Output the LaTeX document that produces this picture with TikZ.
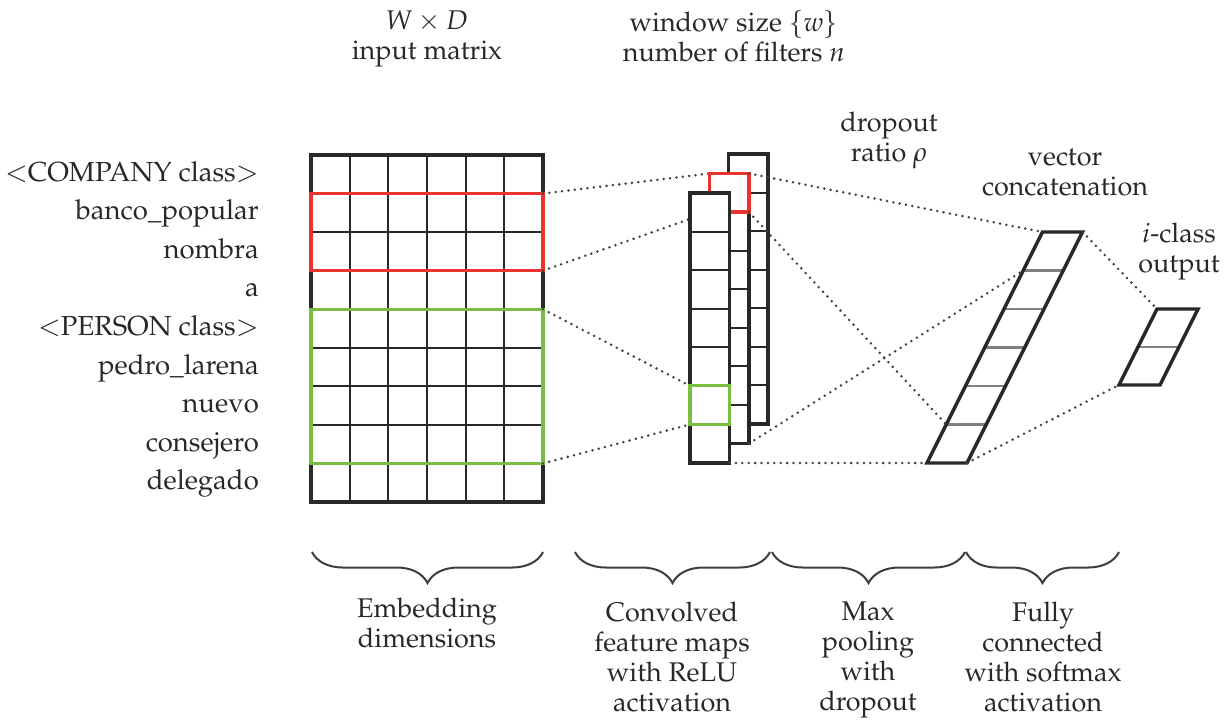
\documentclass[tikz,border=0pt]{standalone}
\usepackage[T1]{fontenc}
\usepackage{mathpazo}
\usetikzlibrary{decorations.pathreplacing}

\definecolor{winred}{RGB}{232,52,44}
\definecolor{wingreen}{RGB}{122,190,64}
\definecolor{ink}{RGB}{40,40,40}

\tikzset{
  txt/.style={font=\fontsize{27}{30}\selectfont, text=ink, inner sep=0pt, align=center},
  wordlbl/.style={font=\fontsize{27.5}{30}\selectfont, text=ink, inner sep=0pt, anchor=base east},
  frame/.style={draw=ink, line width=3.4pt, line join=miter},
  cellline/.style={draw=ink, line width=2pt},
  softline/.style={draw=black!50, line width=2.2pt},
  redwin/.style={draw=winred, line width=3.2pt},
  greenwin/.style={draw=wingreen, line width=3.2pt},
  dotline/.style={draw=black!75, line width=2.8pt, line cap=round, dash pattern=on 0pt off 6.4pt},
  bracket/.style={draw=ink!90, line width=2pt, decorate,
    decoration={brace, mirror, amplitude=31pt, aspect=0.5}},
}

\begin{document}
\begin{tikzpicture}[x=1pt, y=-1pt]
\useasboundingbox (0,0) rectangle (1225,721);

% ---------------- input matrix (9 words x 6 dimensions) ----------------
\def\mx{311}\def\my{155}\def\cw{38.667}\def\ch{38.556}
\foreach \i in {1,...,5}
  \draw[cellline] ({\mx+\i*\cw},\my) -- ({\mx+\i*\cw},{\my+9*\ch});
\foreach \j in {1,...,8}
  \draw[cellline] (\mx,{\my+\j*\ch}) -- ({\mx+6*\cw},{\my+\j*\ch});
\draw[frame] (\mx,\my) rectangle ({\mx+6*\cw},{\my+9*\ch});

\coordinate (mRedT) at ({\mx+6*\cw},{\my+1*\ch});
\coordinate (mRedB) at ({\mx+6*\cw},{\my+3*\ch});
\coordinate (mGrnT) at ({\mx+6*\cw},{\my+4*\ch});
\coordinate (mGrnB) at ({\mx+6*\cw},{\my+8*\ch});
\draw[redwin] (\mx,{\my+1*\ch}) rectangle (mRedB);
\draw[greenwin] (\mx,{\my+4*\ch}) rectangle (mGrnB);

% word labels, one per matrix row
\foreach \w [count=\k from 0] in {{$<$COMPANY class$>$},banco\_popular,nombra,a,
    {$<$PERSON class$>$},pedro\_larena,nuevo,consejero,delegado}
  \node[wordlbl] (word\k) at (259,{\my+\k*\ch+\ch/2+7}) {\w};

% ---------------- convolved feature maps (three stacked columns) ----------------
\def\fw{39.5}\def\fh{38.57}
\coordinate (fBack) at (728.5,154);
\coordinate (fMid) at (709.5,173.5);
\coordinate (fFront) at (690,193);

\coordinate (redTL) at (709.5,173.5);
\coordinate (redBL) at (709.5,{173.5+\fh});
\coordinate (redTR) at (749,173.5);
\coordinate (redBR) at (749,{173.5+\fh});
\coordinate (midBR) at (749,{173.5+7*\fh});
\coordinate (grnTL) at (690,{193+5*\fh});
\coordinate (grnBL) at (690,{193+6*\fh});
\coordinate (frontBR) at (729.5,{193+7*\fh});

% projections from the matrix windows onto the feature maps
\draw[dotline] (mRedT) -- (redTL);
\draw[dotline] (mRedB) -- (redBL);
\draw[dotline] (mGrnT) -- (grnTL);
\draw[dotline] (mGrnB) -- (grnBL);

% back, middle (with the red window) and front maps
\fill[white] (fBack) rectangle ++(\fw,{7*\fh});
\foreach \j in {1,...,6}
  \draw[cellline] ([yshift=-\j*\fh]fBack) -- ++(\fw,0);
\draw[frame] (fBack) rectangle ++(\fw,{7*\fh});
\fill[white] (fMid) rectangle ++(\fw,{7*\fh});
\foreach \j in {1,...,6}
  \draw[cellline] ([yshift=-\j*\fh]fMid) -- ++(\fw,0);
\draw[frame] (fMid) rectangle ++(\fw,{7*\fh});
\draw[redwin] (redTL) rectangle (redBR);
\fill[white] (fFront) rectangle ++(\fw,{7*\fh});
\foreach \j in {1,...,6}
  \draw[cellline] ([yshift=-\j*\fh]fFront) -- ++(\fw,0);
\draw[frame] (fFront) rectangle ++(\fw,{7*\fh});
\draw[greenwin] (grnTL) rectangle ([xshift=\fw]grnBL);

% ---------------- concatenated vector (slanted) ----------------
\def\vx{927}\def\vy{463}\def\vw{40}\def\vh{38.5}
\coordinate (vBL) at (\vx,\vy);
\coordinate (vBR) at ({\vx+\vw},\vy);
\coordinate (vTL) at ({\vx+3*\vh},{\vy-6*\vh});
\coordinate (vTR) at ({\vx+\vw+3*\vh},{\vy-6*\vh});
\coordinate (vD1) at ({\vx+0.5*\vh},{\vy-\vh});
\coordinate (vD5) at ({\vx+2.5*\vh},{\vy-5*\vh});
\foreach \j in {1,...,5}
  \draw[softline] ({\vx+0.5*\j*\vh},{\vy-\j*\vh}) -- ++(\vw,0);
\draw[frame] (vBL) -- (vBR) -- (vTR) -- (vTL) -- cycle;

% ---------------- class output (slanted) ----------------
\def\ox{1119}\def\oy{385}\def\ow{41}
\coordinate (oBL) at (\ox,\oy);
\coordinate (oBR) at ({\ox+\ow},\oy);
\coordinate (oTL) at ({\ox+38},{\oy-76});
\coordinate (oTR) at ({\ox+\ow+38},{\oy-76});
\draw[softline] ({\ox+19},{\oy-38}) -- ++(\ow,0);
\draw[frame] (oBL) -- (oBR) -- (oTR) -- (oTL) -- cycle;

% pooling and fully connected projections
\draw[dotline] (redTR) -- (vTL);
\draw[dotline] (redBR) -- (vD1);
\draw[dotline] (midBR) -- (vD5);
\draw[dotline] (frontBR) -- (vBL);
\draw[dotline] (vTR) -- (oTL);
\draw[dotline] (vBR) -- (oBL);

% ---------------- headings ----------------
\node[txt, anchor=north] (hMatrix) at (427,10) {$W\times D$\\input matrix};
\node[txt, anchor=north] (hWindow) at (734,10) {window size $\{w\}$\\number of filters $n$};
\node[txt, anchor=north] (hDrop) at (889,112) {dropout\\ratio $\rho$};
\node[txt, anchor=north] (hConcat) at (1065,149) {vector\\concatenation};
\node[txt, anchor=north] (hOut) at (1179,223) {$i$-class\\output};

% ---------------- stage braces and captions ----------------
\coordinate (b1l) at (312,552); \coordinate (b1r) at (543,552);
\coordinate (b2l) at (575,552); \coordinate (b2r) at (770,552);
\coordinate (b3l) at (772,552); \coordinate (b3r) at (965,552);
\coordinate (b4l) at (966,552); \coordinate (b4r) at (1119,552);
\draw[bracket] (b1l) -- (b1r);
\draw[bracket] (b2l) -- (b2r);
\draw[bracket] (b3l) -- (b3r);
\draw[bracket] (b4l) -- (b4r);

\node[txt, anchor=north] (cEmb) at (427,598) {Embedding\\dimensions};
\node[txt, anchor=north] (cConv) at (672,602) {Convolved\\feature maps\\with ReLU\\activation};
\node[txt, anchor=north] (cPool) at (868,602) {Max\\pooling\\with\\dropout};
\node[txt, anchor=north] (cFull) at (1043,602) {Fully\\connected\\with softmax\\activation};
\end{tikzpicture}
\end{document}
